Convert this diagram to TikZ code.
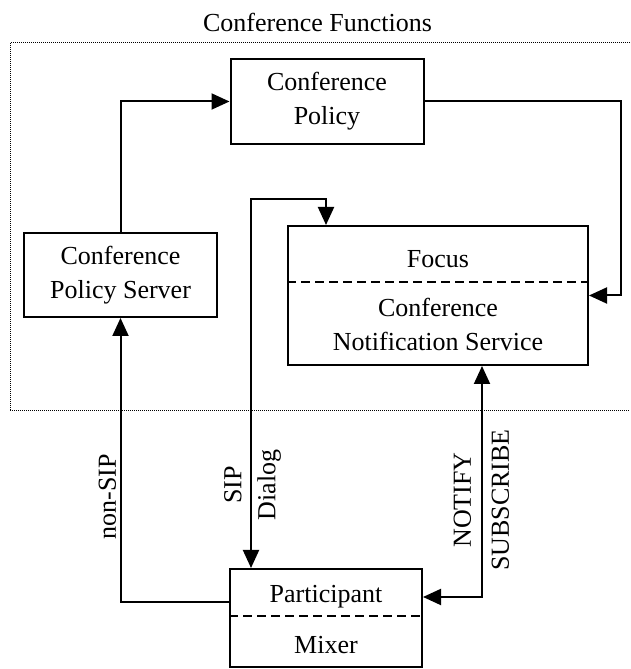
\documentclass[tikz,border=0pt]{standalone}
\usepackage{fontspec}
\setmainfont{Liberation Serif}
\usetikzlibrary{arrows.meta,positioning,calc}

\begin{document}
\begin{tikzpicture}[x=1pt,y=1pt,
    font=\fontsize{26}{34}\selectfont,
    box/.style={draw,rectangle,line width=2pt,align=center},
    txt/.style={align=center},
    conn/.style={line width=2pt,-{Triangle[length=18pt,width=16pt]}},
    biconn/.style={line width=2pt,{Triangle[length=18pt,width=16pt]}-{Triangle[length=18pt,width=16pt]}},
    split/.style={line width=2pt,dash pattern=on 9pt off 5pt},
    fbound/.style={line width=1pt,dash pattern=on 1pt off 1pt},
    lbl/.style={rotate=90,align=center}]
      \useasboundingbox (0,0) rectangle (630,669);

      \node (cf) at (317.5,647) {Conference Functions};
      \draw[fbound] (630,626) -| (10,258) -- (630,258);

      \node[box,minimum width=193pt,minimum height=85pt] (cp) at (327,567.5) {Conference\\Policy};
      \node[box,minimum width=193pt,minimum height=84pt] (cps) at (120.5,394) {Conference\\Policy Server};

      \node[box,minimum width=300pt,minimum height=139pt] (fc) at (438,373.5) {};
      \node[txt] (fcu) at (438,410) {Focus};
      \node[txt] (fcl) at (438,345) {Conference\\Notification Service};
      \draw[split] ($(fc.north west)+(0,-57.5)$) -- ($(fc.north east)+(0,-57.5)$);

      \node[box,minimum width=192pt,minimum height=98pt] (pt) at (326,51) {};
      \node[txt] (ptu) at (326,72) {Participant};
      \node[txt] (ptl) at (326,24) {Mixer};
      \draw[split] ($(pt.north west)+(0,-48)$) -- ($(pt.north east)+(0,-48)$);

      \draw[conn] (cps.north) |- (cp.west);

      \coordinate (ne) at (621,373.5);
      \draw[conn] (cp.east) -| (ne) -- (fc.east);

      \coordinate (sip) at (251,470);
      \draw[biconn] ($(fc.north west)+(39,0)$) |- (sip) -- (sip |- pt.north);

      \draw[conn] ($(pt.west)+(0,16)$) -| (cps.south);

      \coordinate (ntf) at (482,72);
      \draw[biconn] (ntf -| pt.east) -- (ntf) -- (ntf |- fc.south);

      \node[lbl] (nsip) at (107.5,172) {non-SIP};
      \node[lbl] (sipd) at (252.5,184) {SIP\\Dialog};
      \node[lbl] (nots) at (481.5,169) {NOTIFY\\[4pt]SUBSCRIBE};
\end{tikzpicture}
\end{document}
